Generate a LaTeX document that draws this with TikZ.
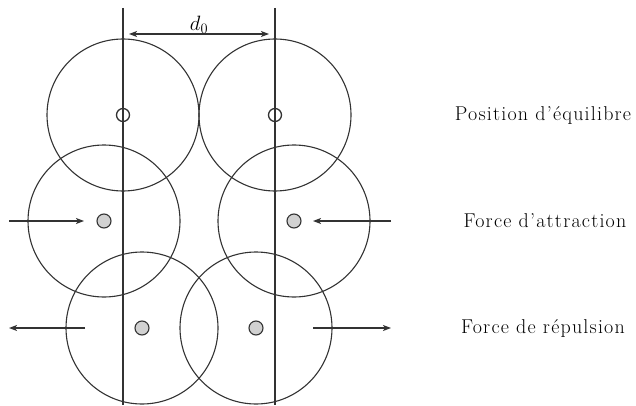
\documentclass[tikz,border=0pt]{standalone}
\usepackage{fontspec}
\setmainfont{Latin Modern Roman}
\usetikzlibrary{arrows.meta}
\begin{document}
\begin{tikzpicture}[x=1pt,y=-1pt,
  line/.style={draw=black!80,line width=1.3pt},
  ring/.style={circle,draw=black!80,line width=1.1pt,minimum size=152pt,inner sep=0pt},
  eqdot/.style={circle,draw=black!80,line width=1.3pt,minimum size=13pt,inner sep=0pt},
  gdot/.style={circle,draw=black!80,fill=black!18,line width=1.1pt,minimum size=14pt,inner sep=0pt},
  force/.style={draw=black!80,line width=1.3pt,-{Stealth[length=8pt,width=6pt,inset=2pt]}},
  lab/.style={font=\fontsize{20}{24}\selectfont\addfontfeature{LetterSpace=6},inner sep=0pt}
]
\useasboundingbox (0,0) rectangle (636,406);
% vertical lines
\coordinate (lt) at (123,8);
\coordinate (lb) at (123,405);
\coordinate (rt) at (275,8);
\coordinate (rb) at (275,405);
\draw[line] (lt) -- (lb);
\draw[line] (rt) -- (rb);
% d0
\coordinate (da) at (123,34);
\coordinate (db) at (275,34);
\draw[line,{Stealth[length=8pt,width=6pt,inset=2pt]}-{Stealth[length=8pt,width=6pt,inset=2pt]},shorten <=6pt,shorten >=6pt] (da) -- (db);
\node[inner sep=0pt,font=\fontsize{20}{24}\selectfont] (d0) at (199,25) {$d_0$};
% top row
\node[ring] (c1) at (123,115) {};
\node[ring] (c2) at (275,115) {};
\node[eqdot] (p1) at (123,115) {};
\node[eqdot] (p2) at (275,115) {};
% middle row
\node[ring] (c3) at (104,221) {};
\node[ring] (c4) at (294,221) {};
\node[gdot] (p3) at (104,221) {};
\node[gdot] (p4) at (294,221) {};
% bottom row
\node[ring] (c5) at (142,328) {};
\node[ring] (c6) at (256,328) {};
\node[gdot] (p5) at (142,328) {};
\node[gdot] (p6) at (256,328) {};
% force arrows
\coordinate (a1s) at (9,221);
\coordinate (a1e) at (84,221);
\coordinate (a2s) at (391,221);
\coordinate (a2e) at (313,221);
\draw[force] (a1s) -- (a1e);
\draw[force] (a2s) -- (a2e);
\coordinate (r1s) at (85,328);
\coordinate (r1e) at (9,328);
\coordinate (r2s) at (313,328);
\coordinate (r2e) at (391,328);
\draw[force] (r1s) -- (r1e);
\draw[force] (r2s) -- (r2e);
% labels
\node[lab] (t1) at (543,115) {Position d'équilibre};
\node[lab] (t2) at (545,221) {Force d'attraction};
\node[lab] (t3) at (543,328) {Force de répulsion};
\end{tikzpicture}
\end{document}
